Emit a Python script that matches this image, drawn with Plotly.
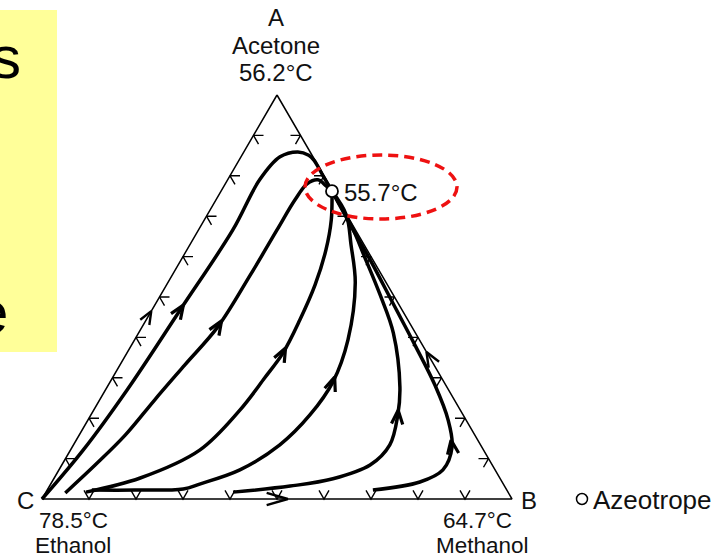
import numpy as np
import plotly.graph_objects as go

# ---------------- data: residue curves (mole fractions) -------------
# A = acetone fraction, B = methanol fraction, ethanol C = 1 - A - B
curve1_A = [0.000, 0.121, 0.270, 0.468, 0.666, 0.790, 0.847, 0.859, 0.851, 0.839, 0.800, 0.762]
curve1_B = [0.000, 0.027, 0.046, 0.060, 0.073, 0.068, 0.083, 0.115, 0.142, 0.159, 0.198, 0.236]

curve2_A = [0.015, 0.084, 0.158, 0.245, 0.332, 0.426, 0.554, 0.666, 0.740, 0.780, 0.790, 0.775, 0.762]
curve2_B = [0.042, 0.071, 0.098, 0.117, 0.138, 0.161, 0.166, 0.167, 0.168, 0.174, 0.192, 0.217, 0.236]

curve3_A = [0.017, 0.052, 0.121, 0.220, 0.300, 0.361, 0.443, 0.530, 0.616, 0.691, 0.762]
curve3_B = [0.085, 0.183, 0.275, 0.311, 0.324, 0.332, 0.327, 0.316, 0.296, 0.270, 0.236]

curve4_A = [0.022, 0.022, 0.025, 0.037, 0.072, 0.134, 0.208, 0.290, 0.394, 0.535, 0.629, 0.703, 0.762]
curve4_B = [0.095, 0.187, 0.288, 0.317, 0.385, 0.439, 0.466, 0.474, 0.454, 0.399, 0.343, 0.296, 0.236]

curve5_A = [0.017, 0.032, 0.050, 0.084, 0.134, 0.208, 0.277, 0.411, 0.505, 0.599, 0.671, 0.762]
curve5_B = [0.398, 0.512, 0.594, 0.656, 0.673, 0.653, 0.623, 0.542, 0.467, 0.387, 0.325, 0.236]

curve6_A = [0.022, 0.042, 0.072, 0.129, 0.196, 0.282, 0.381, 0.485, 0.584, 0.658, 0.762]
curve6_B = [0.693, 0.783, 0.817, 0.808, 0.766, 0.695, 0.603, 0.504, 0.410, 0.337, 0.236]

curves_A = [curve1_A, curve2_A, curve3_A, curve4_A, curve5_A, curve6_A]
curves_B = [curve1_B, curve2_B, curve3_B, curve4_B, curve5_B, curve6_B]

# acetone fraction at which each curve carries its direction arrow
curve_arrow_A = [0.480, 0.441, 0.374, 0.302, 0.220, 0.146]

# azeotrope (acetone-methanol, minimum boiling)
azeo_A = 0.762
azeo_B = 0.236

# binary-edge arrows: position along edge
edgeCA_arrow_A = 0.465   # ethanol-acetone edge, points to A
edgeAB_arrow_A = 0.364   # acetone-methanol edge, points to azeotrope
edgeCB_arrow_B = 0.523   # ethanol-methanol edge, points to B

tick_fracs = [0.1, 0.2, 0.3, 0.4, 0.5, 0.6, 0.7, 0.8, 0.9]

vertex_names = ["A", "B", "C"]
vertex_species = ["Acetone", "Methanol", "Ethanol"]
vertex_bp = ["56.2°C", "64.7°C", "78.5°C"]
azeo_bp = "55.7°C"

# ---------------- geometry helpers ----------------
W, H = 718, 560
CX, BX, BASEY, APEXY = 42.0, 512.0, 499.0, 95.0
SX = BX - CX
SY = BASEY - APEXY


def tern(a, b):
    a = np.asarray(a, float)
    b = np.asarray(b, float)
    return b + a / 2.0, a


def to_px(x, y):
    return CX + SX * x, BASEY - SY * y


def from_px(px, py):
    return (px - CX) / SX, (BASEY - py) / SY


def chevron(tx, ty, ux, uy, length, half):
    """tip (px), pointing direction (px), arm length, half angle (deg)"""
    ang = np.arctan2(uy, ux)
    arms = []
    for s in (1, -1):
        th = ang + np.pi + s * np.radians(half)
        arms.append((tx + length * np.cos(th), ty + length * np.sin(th)))
    seq = [arms[0], (tx, ty), arms[1]]
    xs = [from_px(*p)[0] for p in seq] + [None]
    ys = [from_px(*p)[1] for p in seq] + [None]
    return xs, ys


fig = go.Figure()

# triangle outline
tri_x, tri_y = tern([1, 0, 0, 1], [0, 1, 0, 0])
fig.add_trace(go.Scatter(x=tri_x, y=tri_y, mode="lines",
                         line=dict(color="black", width=1.5), hoverinfo="skip"))

# edge tick chevrons (pointing outward)
tx_all, ty_all = [], []
for f in tick_fracs:
    x, y = tern(f, 0)
    px, py = to_px(float(x), float(y))
    xs, ys = chevron(px, py, -np.cos(np.radians(30)), -np.sin(np.radians(30)), 10, 30)
    tx_all += xs; ty_all += ys
    x, y = tern(f, 1 - f)
    px, py = to_px(float(x), float(y))
    xs, ys = chevron(px, py, np.cos(np.radians(30)), -np.sin(np.radians(30)), 10, 30)
    tx_all += xs; ty_all += ys
    x, y = tern(0, f)
    px, py = to_px(float(x), float(y))
    xs, ys = chevron(px, py, 0, 1, 10, 30)
    tx_all += xs; ty_all += ys
fig.add_trace(go.Scatter(x=tx_all, y=ty_all, mode="lines",
                         line=dict(color="black", width=1.4), hoverinfo="skip"))

# residue curves
arr_x, arr_y = [], []
for ca, cb, ta in zip(curves_A, curves_B, curve_arrow_A):
    x, y = tern(ca, cb)
    fig.add_trace(go.Scatter(x=x, y=y, mode="lines",
                             line=dict(color="black", width=3.5, shape="spline", smoothing=1.0),
                             hoverinfo="skip"))
    a = np.asarray(ca); b = np.asarray(cb)
    for i in range(len(a) - 1):
        if a[i] <= ta <= a[i + 1]:
            t = (ta - a[i]) / (a[i + 1] - a[i])
            bb = b[i] + t * (b[i + 1] - b[i])
            px, py = to_px(*[float(v) for v in tern(ta, bb)])
            p0 = to_px(*[float(v) for v in tern(a[i], b[i])])
            p1 = to_px(*[float(v) for v in tern(a[i + 1], b[i + 1])])
            xs, ys = chevron(px, py, p1[0] - p0[0], p1[1] - p0[1], 15, 22)
            arr_x += xs; arr_y += ys
            break

# edge arrows (thin)
e_x, e_y = [], []
px, py = to_px(*[float(v) for v in tern(edgeCA_arrow_A, 0)])
xs, ys = chevron(px, py, np.cos(np.radians(60)), -np.sin(np.radians(60)), 14, 22)
e_x += xs; e_y += ys
px, py = to_px(*[float(v) for v in tern(edgeAB_arrow_A, 1 - edgeAB_arrow_A)])
xs, ys = chevron(px, py, -np.cos(np.radians(60)), -np.sin(np.radians(60)), 16, 22)
e_x += xs; e_y += ys
px, py = to_px(*[float(v) for v in tern(0, edgeCB_arrow_B)])
xs, ys = chevron(px, py, 1, 0, 22, 16)
e_x += xs; e_y += ys

fig.add_trace(go.Scatter(x=arr_x, y=arr_y, mode="lines",
                         line=dict(color="black", width=3.2), hoverinfo="skip"))
fig.add_trace(go.Scatter(x=e_x, y=e_y, mode="lines",
                         line=dict(color="black", width=2.4), hoverinfo="skip"))

# azeotrope marker
ax_, ay_ = tern([azeo_A], [azeo_B])
fig.add_trace(go.Scatter(x=ax_, y=ay_, mode="markers",
                         marker=dict(symbol="circle", size=12, color="white",
                                     line=dict(color="black", width=1.8)),
                         hoverinfo="skip"))

# legend marker
lx, ly = from_px(582, 499)
fig.add_trace(go.Scatter(x=[lx], y=[ly], mode="markers",
                         marker=dict(symbol="circle", size=11, color="white",
                                     line=dict(color="black", width=1.5)),
                         hoverinfo="skip"))

FONT = "Liberation Sans, Arial, sans-serif"


def label(text, px, py, size=24, xanchor="center"):
    x, y = from_px(px, py)
    fig.add_annotation(x=x, y=y, xref="x", yref="y", text=text, showarrow=False,
                       xanchor=xanchor, yanchor="middle", borderpad=0,
                       font=dict(family=FONT, size=size, color="#111111"))


label(vertex_names[0], 276, 17)
label(vertex_species[0], 276, 45)
label(vertex_bp[0], 276, 72)
label(vertex_names[2], 25, 500)
label(vertex_bp[2], 73, 520.5, size=22.5)
label(vertex_species[2], 73, 545.5, size=22.5)
label(vertex_names[1], 529, 500)
label(vertex_bp[1], 477, 520.5, size=22.5)
label(vertex_species[1], 482, 545.5, size=22.5)
label(azeo_bp, 343, 192, xanchor="left")
label("Azeotrope", 592, 500, size=26, xanchor="left")

# red dashed ellipse around the azeotrope
ex0, ey0 = from_px(305, 219)
ex1, ey1 = from_px(457, 155)
fig.add_shape(type="circle", xref="x", yref="y", x0=ex0, y0=ey0, x1=ex1, y1=ey1,
              line=dict(color="#EE1111", width=3.5, dash="10px,6px"))

# yellow box (cut-off slide text)
fig.add_shape(type="rect", xref="paper", yref="paper", x0=0, x1=57 / W,
              y0=1 - 352 / H, y1=1 - 10 / H, fillcolor="#FFFF99", line=dict(width=0),
              layer="below")
fig.add_annotation(x=23 / W, y=1 - 58 / H, xref="paper", yref="paper", text="s",
                   showarrow=False, xanchor="right", yanchor="middle",
                   font=dict(family=FONT, size=60, color="black"))
fig.add_annotation(x=10 / W, y=1 - 312 / H, xref="paper", yref="paper", text="e",
                   showarrow=False, xanchor="right", yanchor="middle",
                   font=dict(family=FONT, size=60, color="black"))

xr0, _ = from_px(0, 0)
xr1, _ = from_px(W, 0)
_, yr0 = from_px(0, H)
_, yr1 = from_px(0, 0)
fig.update_layout(
    width=W, height=H, margin=dict(l=0, r=0, t=0, b=0),
    paper_bgcolor="white", plot_bgcolor="white", showlegend=False,
    xaxis=dict(range=[xr0, xr1], visible=False, fixedrange=True),
    yaxis=dict(range=[yr0, yr1], visible=False, fixedrange=True),
)

fig.write_html("out.html")
